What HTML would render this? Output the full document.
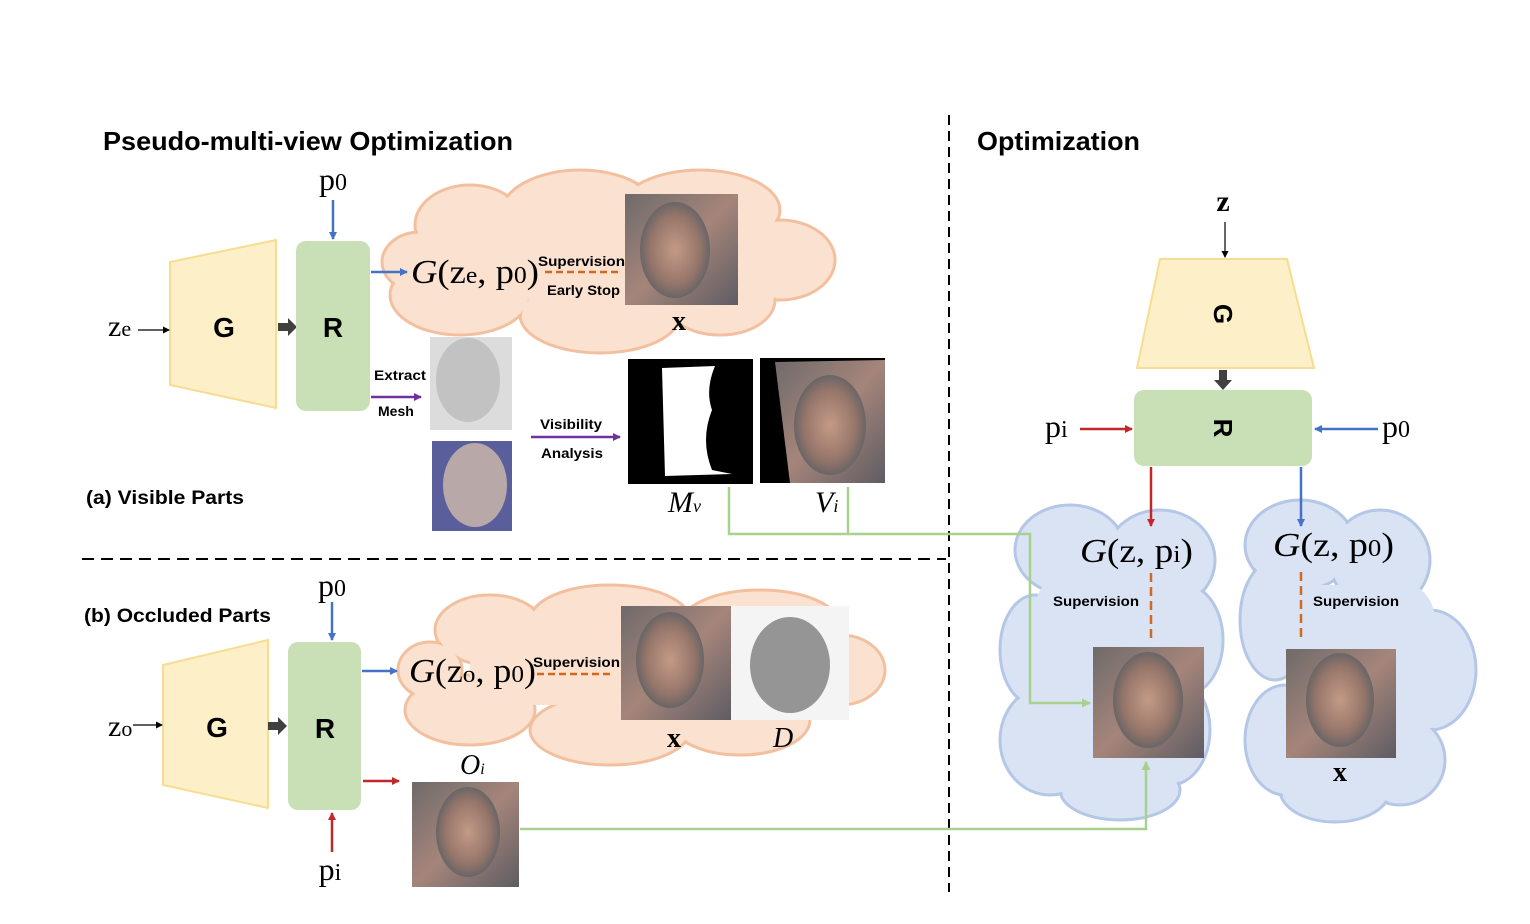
<!DOCTYPE html>
<html><head><meta charset="utf-8"><style>
html,body{margin:0;padding:0;background:#fff}
svg{display:block}
.s{font-family:"Liberation Sans",sans-serif;font-weight:bold}
.m{font-family:"Liberation Serif",serif}
</style></head><body>
<svg width="1530" height="924" viewBox="0 0 1530 924" xmlns="http://www.w3.org/2000/svg">
<defs>
<marker id="ab" markerWidth="8" markerHeight="8" refX="7" refY="4" orient="auto" markerUnits="userSpaceOnUse"><path d="M0,0 L8,4 L0,8 z" fill="#4472c4"/></marker>
<marker id="ar" markerWidth="8" markerHeight="8" refX="7" refY="4" orient="auto" markerUnits="userSpaceOnUse"><path d="M0,0 L8,4 L0,8 z" fill="#c0282a"/></marker>
<marker id="ap" markerWidth="8" markerHeight="8" refX="7" refY="4" orient="auto" markerUnits="userSpaceOnUse"><path d="M0,0 L8,4 L0,8 z" fill="#7030a0"/></marker>
<marker id="ag" markerWidth="9" markerHeight="9" refX="8" refY="4.5" orient="auto" markerUnits="userSpaceOnUse"><path d="M0,0 L9,4.5 L0,9 z" fill="#a9d18e"/></marker>
<marker id="ak" markerWidth="7" markerHeight="7" refX="6" refY="3.5" orient="auto" markerUnits="userSpaceOnUse"><path d="M0,0 L7,3.5 L0,7 z" fill="#000"/></marker>
<linearGradient id="face" x1="0" y1="0" x2="1" y2="1"><stop offset="0" stop-color="#6f6a6a"/><stop offset="0.5" stop-color="#a5857a"/><stop offset="1" stop-color="#5e5c63"/></linearGradient>
<radialGradient id="fc" cx="0.5" cy="0.5" r="0.5"><stop offset="0" stop-color="#c49a86"/><stop offset="0.7" stop-color="#96766a"/><stop offset="1" stop-color="#6a6566"/></radialGradient>
</defs>

<text x="103" y="150" class="s" font-size="26" textLength="410" lengthAdjust="spacingAndGlyphs">Pseudo-multi-view Optimization</text>
<text x="977" y="150" class="s" font-size="26" textLength="163" lengthAdjust="spacingAndGlyphs">Optimization</text>
<line x1="949" y1="115" x2="949" y2="892" stroke="#000" stroke-width="2" stroke-dasharray="10,6"/>
<line x1="82" y1="559" x2="946" y2="559" stroke="#000" stroke-width="2" stroke-dasharray="12,7"/>

<!-- peach cloud 1 -->
<g stroke="#f3c09f" stroke-width="3" fill="#fbe1cf">
<ellipse cx="470" cy="225" rx="55" ry="40"/><ellipse cx="580" cy="215" rx="80" ry="45"/><ellipse cx="700" cy="210" rx="80" ry="40"/><ellipse cx="780" cy="260" rx="55" ry="40"/><ellipse cx="720" cy="300" rx="55" ry="35"/><ellipse cx="600" cy="315" rx="80" ry="38"/><ellipse cx="460" cy="295" rx="70" ry="40"/><ellipse cx="420" cy="262" rx="38" ry="30"/>
</g>
<g fill="#fbe1cf"><ellipse cx="470" cy="225" rx="53" ry="38"/><ellipse cx="580" cy="215" rx="78" ry="43"/><ellipse cx="700" cy="210" rx="78" ry="38"/><ellipse cx="780" cy="260" rx="53" ry="38"/><ellipse cx="720" cy="300" rx="53" ry="33"/><ellipse cx="600" cy="315" rx="78" ry="36"/><ellipse cx="460" cy="295" rx="68" ry="38"/><ellipse cx="420" cy="262" rx="36" ry="28"/><rect x="460" y="230" width="300" height="70"/></g>

<!-- peach cloud 2 -->
<g stroke="#f3c09f" stroke-width="3" fill="#fbe1cf">
<ellipse cx="490" cy="630" rx="55" ry="35"/><ellipse cx="610" cy="620" rx="80" ry="35"/><ellipse cx="760" cy="625" rx="80" ry="35"/><ellipse cx="840" cy="670" rx="45" ry="35"/><ellipse cx="740" cy="720" rx="70" ry="35"/><ellipse cx="610" cy="730" rx="80" ry="35"/><ellipse cx="470" cy="710" rx="65" ry="35"/><ellipse cx="430" cy="670" rx="32" ry="28"/>
</g>
<g fill="#fbe1cf"><ellipse cx="490" cy="630" rx="53" ry="33"/><ellipse cx="610" cy="620" rx="78" ry="33"/><ellipse cx="760" cy="625" rx="78" ry="33"/><ellipse cx="840" cy="670" rx="43" ry="33"/><ellipse cx="740" cy="720" rx="68" ry="33"/><ellipse cx="610" cy="730" rx="78" ry="33"/><ellipse cx="470" cy="710" rx="63" ry="33"/><ellipse cx="430" cy="670" rx="30" ry="26"/><rect x="470" y="640" width="340" height="65"/><ellipse cx="540" cy="655" rx="50" ry="25"/></g>

<!-- blue clouds -->
<g stroke="#b4c7e7" stroke-width="3" fill="#dae3f3">
<ellipse cx="1070" cy="550" rx="55" ry="45"/><ellipse cx="1160" cy="560" rx="55" ry="50"/><ellipse cx="1185" cy="640" rx="38" ry="55"/><ellipse cx="1170" cy="730" rx="40" ry="55"/><ellipse cx="1120" cy="790" rx="60" ry="30"/><ellipse cx="1050" cy="740" rx="50" ry="55"/><ellipse cx="1035" cy="650" rx="35" ry="55"/>
<ellipse cx="1300" cy="545" rx="55" ry="45"/><ellipse cx="1380" cy="560" rx="50" ry="50"/><ellipse cx="1430" cy="670" rx="46" ry="60"/><ellipse cx="1400" cy="760" rx="45" ry="45"/><ellipse cx="1335" cy="790" rx="55" ry="32"/><ellipse cx="1285" cy="740" rx="40" ry="55"/><ellipse cx="1275" cy="620" rx="35" ry="60"/>
</g>
<g fill="#dae3f3">
<ellipse cx="1070" cy="550" rx="53" ry="43"/><ellipse cx="1160" cy="560" rx="53" ry="48"/><ellipse cx="1185" cy="640" rx="36" ry="53"/><ellipse cx="1170" cy="730" rx="38" ry="53"/><ellipse cx="1120" cy="790" rx="58" ry="28"/><ellipse cx="1050" cy="740" rx="48" ry="53"/><ellipse cx="1035" cy="650" rx="33" ry="53"/><rect x="1055" y="575" width="120" height="195"/><ellipse cx="1075" cy="610" rx="40" ry="40"/>
<ellipse cx="1300" cy="545" rx="53" ry="43"/><ellipse cx="1380" cy="560" rx="48" ry="48"/><ellipse cx="1430" cy="670" rx="44" ry="58"/><ellipse cx="1400" cy="760" rx="43" ry="43"/><ellipse cx="1335" cy="790" rx="53" ry="30"/><ellipse cx="1285" cy="740" rx="38" ry="53"/><ellipse cx="1275" cy="620" rx="33" ry="58"/><rect x="1292" y="585" width="115" height="185"/><ellipse cx="1395" cy="620" rx="40" ry="40"/>
</g>

<!-- top section -->
<polygon points="170,262 276,240 276,408 170,385" fill="#fdf0c8" stroke="#f7dd90" stroke-width="2"/>
<text x="224" y="337" class="s" font-size="28" text-anchor="middle">G</text>
<polygon points="278,323 288,323 288,318 297,327 288,336 288,331 278,331" fill="#404040"/>
<rect x="296" y="241" width="74" height="170" rx="10" fill="#c9dfb5"/>
<text x="333" y="337" class="s" font-size="28" text-anchor="middle">R</text>
<text x="333" y="190" class="m" font-size="32" text-anchor="middle">p<tspan font-size="24">0</tspan></text>
<line x1="333" y1="200" x2="333" y2="239" stroke="#4472c4" stroke-width="2.5" marker-end="url(#ab)"/>
<text x="108" y="336" class="m" font-size="30">z<tspan font-size="22">e</tspan></text>
<line x1="138" y1="330" x2="169" y2="330" stroke="#000" stroke-width="1.2" marker-end="url(#ak)"/>
<line x1="371" y1="272" x2="407" y2="272" stroke="#4472c4" stroke-width="2.5" marker-end="url(#ab)"/>
<text x="411" y="283" class="m" font-size="34" font-style="italic" textLength="128" lengthAdjust="spacingAndGlyphs">G<tspan font-style="normal">(z<tspan font-size="24">e</tspan>, p<tspan font-size="24">0</tspan>)</tspan></text>
<text x="538" y="266" class="s" font-size="14" textLength="87" lengthAdjust="spacingAndGlyphs">Supervision</text>
<line x1="545" y1="272" x2="620" y2="272" stroke="#d2691e" stroke-width="2.5" stroke-dasharray="7,4"/>
<text x="547" y="295" class="s" font-size="14" textLength="73" lengthAdjust="spacingAndGlyphs">Early Stop</text>
<rect x="625" y="194" width="113" height="111" fill="url(#face)"/><ellipse cx="675" cy="250" rx="35" ry="48" fill="url(#fc)"/>
<text x="679" y="330" class="m" font-size="28" font-weight="bold" text-anchor="middle">x</text>

<text x="374" y="380" class="s" font-size="14" textLength="52" lengthAdjust="spacingAndGlyphs">Extract</text>
<line x1="371" y1="397" x2="421" y2="397" stroke="#7030a0" stroke-width="2.5" marker-end="url(#ap)"/>
<text x="378" y="416" class="s" font-size="14">Mesh</text>
<rect x="430" y="337" width="82" height="93" fill="#dcdcdc"/><ellipse cx="468" cy="380" rx="32" ry="42" fill="#c2c2c2"/>
<rect x="432" y="441" width="80" height="90" fill="#5a5f9c"/><ellipse cx="475" cy="485" rx="32" ry="42" fill="#b8a8a8"/>
<text x="540" y="429" class="s" font-size="14" textLength="62" lengthAdjust="spacingAndGlyphs">Visibility</text>
<line x1="531" y1="437" x2="620" y2="437" stroke="#7030a0" stroke-width="2.5" marker-end="url(#ap)"/>
<text x="541" y="458" class="s" font-size="14" textLength="62" lengthAdjust="spacingAndGlyphs">Analysis</text>
<rect x="628" y="359" width="125" height="125" fill="#000"/>
<path d="M662,368 L715,366 Q705,390 712,410 Q700,440 712,470 L732,474 L665,476 Z" fill="#fff"/>
<rect x="760" y="358" width="125" height="125" fill="#000"/><path d="M775,362 L885,360 L885,483 L790,483 Z" fill="url(#face)"/><ellipse cx="830" cy="425" rx="36" ry="50" fill="url(#fc)"/>
<text x="668" y="512" class="m" font-size="30" font-style="italic">M<tspan font-size="18">v</tspan></text>
<text x="815" y="512" class="m" font-size="30" font-style="italic">V<tspan font-size="18">i</tspan></text>
<text x="86" y="504" class="s" font-size="19" textLength="158" lengthAdjust="spacingAndGlyphs">(a) Visible Parts</text>

<!-- green connectors -->
<polyline points="729,487 729,534 1030,534 1030,703 1090,703" fill="none" stroke="#a9d18e" stroke-width="2.5" marker-end="url(#ag)"/>
<line x1="848" y1="487" x2="848" y2="534" stroke="#a9d18e" stroke-width="2.5"/>
<polyline points="520,829 1146,829 1146,762" fill="none" stroke="#a9d18e" stroke-width="2.5" marker-end="url(#ag)"/>

<!-- bottom section -->
<text x="84" y="622" class="s" font-size="19" textLength="187" lengthAdjust="spacingAndGlyphs">(b) Occluded Parts</text>
<polygon points="163,665 268,640 268,808 163,785" fill="#fdf0c8" stroke="#f7dd90" stroke-width="2"/>
<text x="217" y="737" class="s" font-size="28" text-anchor="middle">G</text>
<polygon points="268,722 278,722 278,717 287,726 278,735 278,730 268,730" fill="#404040"/>
<rect x="288" y="642" width="73" height="168" rx="10" fill="#c9dfb5"/>
<text x="325" y="738" class="s" font-size="28" text-anchor="middle">R</text>
<text x="332" y="596" class="m" font-size="32" text-anchor="middle">p<tspan font-size="24">0</tspan></text>
<line x1="332" y1="602" x2="332" y2="640" stroke="#4472c4" stroke-width="2.5" marker-end="url(#ab)"/>
<text x="108" y="736" class="m" font-size="30">z<tspan font-size="22">o</tspan></text>
<line x1="133" y1="725" x2="162" y2="725" stroke="#000" stroke-width="1.2" marker-end="url(#ak)"/>
<line x1="362" y1="671" x2="397" y2="671" stroke="#4472c4" stroke-width="2.5" marker-end="url(#ab)"/>
<text x="409" y="682" class="m" font-size="34" font-style="italic" textLength="127" lengthAdjust="spacingAndGlyphs">G<tspan font-style="normal">(z<tspan font-size="24">o</tspan>, p<tspan font-size="24">0</tspan>)</tspan></text>
<text x="533" y="667" class="s" font-size="14" textLength="87" lengthAdjust="spacingAndGlyphs">Supervision</text>
<line x1="537" y1="674" x2="610" y2="674" stroke="#d2691e" stroke-width="2.5" stroke-dasharray="7,4"/>
<rect x="621" y="606" width="110" height="114" fill="url(#face)"/><ellipse cx="670" cy="660" rx="34" ry="48" fill="url(#fc)"/>
<rect x="731" y="606" width="118" height="114" fill="#f4f4f4"/><ellipse cx="790" cy="665" rx="40" ry="48" fill="#555" opacity="0.6"/>
<text x="674" y="747" class="m" font-size="28" font-weight="bold" text-anchor="middle">x</text>
<text x="773" y="747" class="m" font-size="28" font-style="italic">D</text>
<line x1="363" y1="781" x2="399" y2="781" stroke="#c0282a" stroke-width="2.5" marker-end="url(#ar)"/>
<text x="460" y="774" class="m" font-size="28" font-style="italic">O<tspan font-size="16">i</tspan></text>
<rect x="412" y="782" width="107" height="105" fill="url(#face)"/><ellipse cx="468" cy="832" rx="32" ry="45" fill="url(#fc)"/>
<text x="330" y="880" class="m" font-size="32" text-anchor="middle">p<tspan font-size="24">i</tspan></text>
<line x1="332" y1="852" x2="332" y2="813" stroke="#c0282a" stroke-width="2.5" marker-end="url(#ar)"/>

<!-- right section -->
<text x="1223" y="211" class="m" font-size="30" font-weight="bold" text-anchor="middle">z</text>
<line x1="1225" y1="222" x2="1225" y2="257" stroke="#000" stroke-width="1.2" marker-end="url(#ak)"/>
<polygon points="1160,259 1287,259 1314,368 1137,368" fill="#fdf0c8" stroke="#f7dd90" stroke-width="2"/>
<text x="0" y="0" class="s" font-size="26" text-anchor="middle" transform="translate(1214,314) rotate(90)">G</text>
<polygon points="1219,370 1227,370 1227,380 1232,380 1223,390 1214,380 1219,380" fill="#404040"/>
<rect x="1134" y="390" width="178" height="76" rx="10" fill="#c9dfb5"/>
<text x="0" y="0" class="s" font-size="26" text-anchor="middle" transform="translate(1214,428) rotate(90)">R</text>
<text x="1045" y="437" class="m" font-size="32">p<tspan font-size="24">i</tspan></text>
<line x1="1080" y1="429" x2="1132" y2="429" stroke="#c0282a" stroke-width="2.5" marker-end="url(#ar)"/>
<text x="1382" y="437" class="m" font-size="32">p<tspan font-size="24">0</tspan></text>
<line x1="1378" y1="429" x2="1315" y2="429" stroke="#4472c4" stroke-width="2.5" marker-end="url(#ab)"/>
<line x1="1151" y1="467" x2="1151" y2="526" stroke="#c0282a" stroke-width="2.5" marker-end="url(#ar)"/>
<line x1="1301" y1="467" x2="1301" y2="526" stroke="#4472c4" stroke-width="2.5" marker-end="url(#ab)"/>
<text x="1080" y="562" class="m" font-size="34" font-style="italic" textLength="113" lengthAdjust="spacingAndGlyphs">G<tspan font-style="normal">(z, p<tspan font-size="24">i</tspan>)</tspan></text>
<line x1="1151" y1="573" x2="1151" y2="640" stroke="#d2691e" stroke-width="2.5" stroke-dasharray="9,5"/>
<text x="1053" y="606" class="s" font-size="14" textLength="86" lengthAdjust="spacingAndGlyphs">Supervision</text>
<rect x="1093" y="647" width="111" height="111" fill="url(#face)"/><ellipse cx="1148" cy="700" rx="35" ry="48" fill="url(#fc)"/>
<text x="1273" y="556" class="m" font-size="34" font-style="italic" textLength="121" lengthAdjust="spacingAndGlyphs">G<tspan font-style="normal">(z, p<tspan font-size="24">0</tspan>)</tspan></text>
<line x1="1301" y1="572" x2="1301" y2="640" stroke="#d2691e" stroke-width="2.5" stroke-dasharray="9,5"/>
<text x="1313" y="606" class="s" font-size="14" textLength="86" lengthAdjust="spacingAndGlyphs">Supervision</text>
<rect x="1286" y="649" width="110" height="109" fill="url(#face)"/><ellipse cx="1340" cy="700" rx="34" ry="47" fill="url(#fc)"/>
<text x="1340" y="781" class="m" font-size="28" font-weight="bold" text-anchor="middle">x</text>
</svg>
</body></html>
